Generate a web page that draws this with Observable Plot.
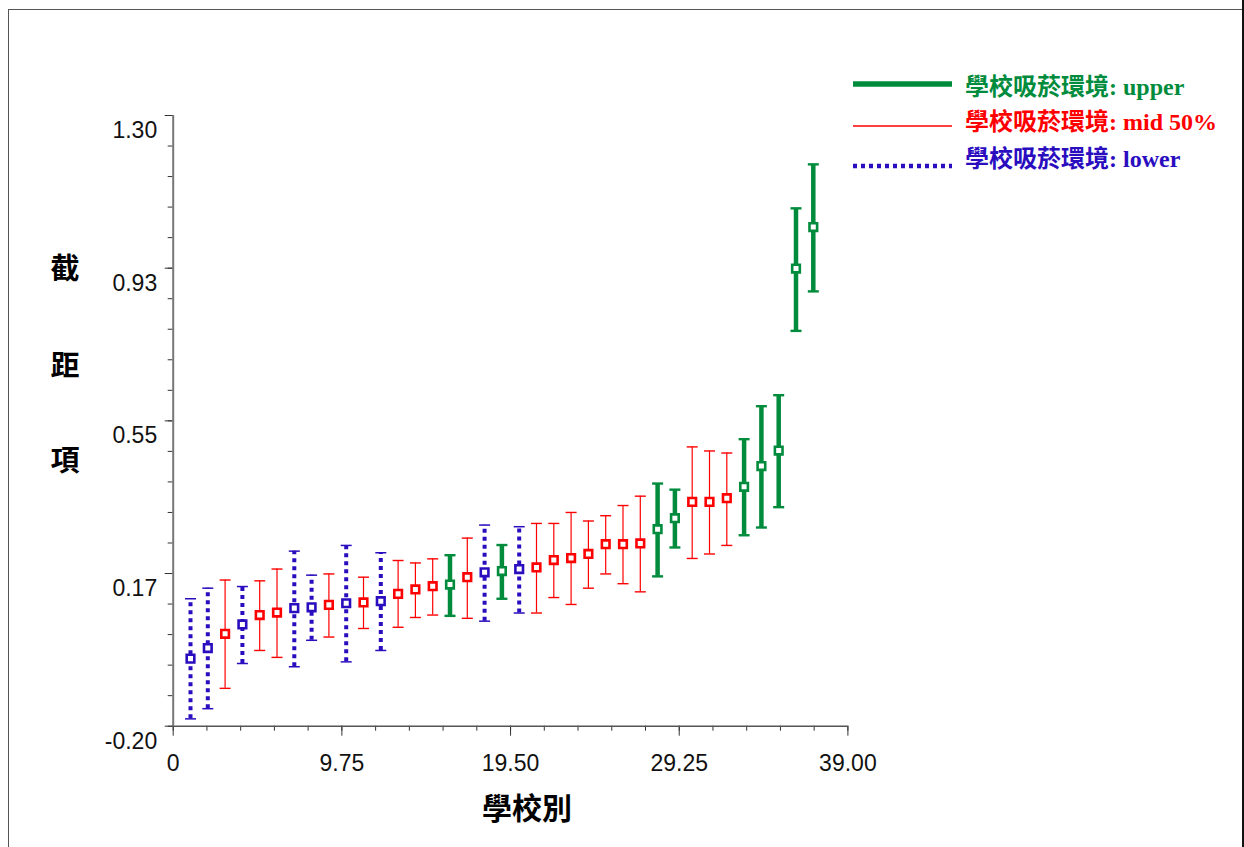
<!DOCTYPE html>
<html><head><meta charset="utf-8">
<script src="https://cdn.jsdelivr.net/npm/d3@7"></script>
<script src="https://cdn.jsdelivr.net/npm/@observablehq/plot@0.6"></script>
<style>
html,body{margin:0;padding:0;background:#fff;width:1244px;height:847px;overflow:hidden;}
body{position:relative;}
#frame{position:absolute;left:8px;top:9px;width:1240px;height:900px;border-left:1px solid #555;border-top:1px solid #555;}
#rframe{position:absolute;left:1242px;top:0;width:2px;height:847px;background:#111;}
#chart{position:absolute;left:0;top:0;}
#overlay{position:absolute;left:0;top:0;}
</style></head><body>
<div id="frame"></div>
<div id="rframe"></div>
<div id="chart"></div>
<svg id="overlay" width="1244" height="847"></svg>
<script>
// ---- data ----
const schools   = [1,2,3,4,5,6,7,8,9,10,11,12,13,14,15,16,17,18,19,20,21,22,23,24,25,26,27,28,29,30,31,32,33,34,35,36,37];
const estimates = [-0.034,-0.008,0.027,0.050,0.073,0.079,0.090,0.092,0.098,0.102,0.104,0.107,0.125,0.136,0.144,0.148,0.166,0.178,0.181,0.186,0.190,0.208,0.213,0.223,0.247,0.247,0.249,0.284,0.311,0.351,0.351,0.360,0.388,0.439,0.477,0.924,1.026];
const upperCI   = [0.113,0.139,0.159,0.143,0.157,0.186,0.230,0.171,0.174,0.244,0.166,0.226,0.207,0.201,0.211,0.220,0.262,0.294,0.245,0.290,0.298,0.298,0.325,0.304,0.317,0.342,0.365,0.396,0.381,0.486,0.476,0.471,0.505,0.586,0.613,1.072,1.180];
const lowerCI   = [-0.182,-0.157,-0.107,-0.046,-0.014,-0.031,-0.054,0.011,0.019,-0.042,0.040,-0.014,0.043,0.067,0.073,0.071,0.065,0.058,0.113,0.078,0.078,0.116,0.099,0.139,0.174,0.150,0.130,0.168,0.239,0.212,0.223,0.244,0.269,0.288,0.338,0.771,0.868];
const groups    = ["lower","lower","mid","lower","mid","mid","lower","lower","mid","lower","mid","lower","mid","mid","mid","upper","mid","lower","upper","lower","mid","mid","mid","mid","mid","mid","mid","upper","upper","mid","mid","mid","upper","upper","upper","upper","upper"];

const groupKeys    = ["upper","mid","lower"];
const legendLabels = ["學校吸菸環境: upper","學校吸菸環境: mid 50%","學校吸菸環境: lower"];
const groupColors  = ["#008C3C","#FF0000","#2A0DBF"];

const yMajor  = [-0.2,0.175,0.55,0.925,1.3];
const yLabels = ["-0.20","0.17","0.55","0.93","1.30"];
const yMinor  = d3.range(0,21).map(i=>-0.2+i*0.075);
const xMajor  = [0,9.75,19.5,29.25,39];
const xLabels = ["0","9.75","19.50","29.25","39.00"];
const xMinor  = d3.range(0,21).map(i=>i*1.95);

const xTitle = "學校別";
const yTitle = ["截","距","項"];

// ---- build ----
const data = schools.map((s,i)=>({school:s, est:estimates[i], hi:upperCI[i], lo:lowerCI[i], group:groups[i]}));
const color = k => groupColors[groupKeys.indexOf(k)];
const barStyle = {upper:{strokeWidth:4.5}, mid:{strokeWidth:1.2}, lower:{strokeWidth:4, strokeDasharray:"4,4"}};
const capStyle = {upper:{strokeWidth:2.4, w:5.5}, mid:{strokeWidth:1.4, w:5.5}, lower:{strokeWidth:1.5, w:5.5}};
const capSymbol = w => ({draw(ctx){ctx.moveTo(-w,0);ctx.lineTo(w,0);}});

const groupMarks = groupKeys.flatMap(k=>{
  const d = data.filter(r=>r.group===k);
  const c = color(k);
  return [
    Plot.ruleX(d,{x:"school", y1:"lo", y2:"hi", stroke:c, ...barStyle[k]}),
    Plot.dot(d,{x:"school", y:"hi", symbol:capSymbol(capStyle[k].w), stroke:c, strokeWidth:capStyle[k].strokeWidth, fill:"none"}),
    Plot.dot(d,{x:"school", y:"lo", symbol:capSymbol(capStyle[k].w), stroke:c, strokeWidth:capStyle[k].strokeWidth, fill:"none"}),
  ];
});
const markerMarks = groupKeys.map(k=>Plot.dot(data.filter(r=>r.group===k),{x:"school", y:"est", symbol:"square", r:4.3, fill:"white", stroke:color(k), strokeWidth:2.6}));

const chart = Plot.plot({
  width:1244, height:847,
  marginLeft:172.7, marginRight:396.6, marginTop:115, marginBottom:121.3,
  x:{domain:[0,39]}, y:{domain:[-0.2,1.3]},
  style:{fontFamily:"'Liberation Sans', Arial, sans-serif", fontSize:"23px", color:"#111", background:"transparent", overflow:"visible"},
  marks:[
    Plot.axisY({ticks:yMinor, tickSize:5, tickFormat:()=>"", label:null, stroke:"#333"}),
    Plot.axisY({ticks:yMajor, tickSize:8, tickFormat:()=>"", label:null, stroke:"#333"}),
    Plot.axisY({ticks:yMajor, tickSize:0, tickPadding:16, dy:15, fontSize:23, tickFormat:d=>yLabels[yMajor.indexOf(d)], label:null, fill:"#111"}),
    Plot.axisX({ticks:xMinor, tickSize:5, tickFormat:()=>"", label:null, stroke:"#333"}),
    Plot.axisX({ticks:xMajor, tickSize:10, tickFormat:()=>"", label:null, stroke:"#333"}),
    Plot.axisX({ticks:xMajor, tickSize:0, tickPadding:28, fontSize:23, tickFormat:d=>xLabels[xMajor.indexOf(d)], label:null, fill:"#111"}),
    Plot.ruleX([0],{stroke:"#777", strokeWidth:2}),
    Plot.ruleY([-0.2],{stroke:"#555", strokeWidth:1.5}),
    ...groupMarks,
    ...markerMarks
  ]
});
document.getElementById("chart").appendChild(chart);

// ---- legend & titles ----
const ov = d3.select("#overlay");
const legY = [84,126,166], legBase = [95,130,167];
const legStroke = [{w:5.5},{w:1.6},{w:4.5,dash:"4,4"}];
groupKeys.forEach((k,i)=>{
  ov.append("line").attr("x1",853).attr("x2",952).attr("y1",legY[i]).attr("y2",legY[i])
    .attr("stroke",groupColors[i]).attr("stroke-width",legStroke[i].w).attr("stroke-dasharray",legStroke[i].dash||null);
  ov.append("text").attr("x",965).attr("y",legBase[i]).text(legendLabels[i])
    .attr("fill",groupColors[i]).attr("font-size",24).attr("font-weight","bold")
    .attr("font-family","'Liberation Serif','Noto Sans CJK TC',serif");
});
ov.append("text").attr("x",527).attr("y",808+11.4).attr("text-anchor","middle").text(xTitle)
  .attr("font-size",30).attr("font-weight","bold").attr("font-family","'Noto Sans CJK TC',sans-serif").attr("fill","#000");
const yc=[268,365,460];
yTitle.forEach((ch,i)=>{
  ov.append("text").attr("x",65).attr("y",yc[i]+11).attr("text-anchor","middle").text(ch)
    .attr("font-size",29).attr("font-weight","bold").attr("font-family","'Noto Sans CJK TC',sans-serif").attr("fill","#000");
});
</script>
</body></html>
